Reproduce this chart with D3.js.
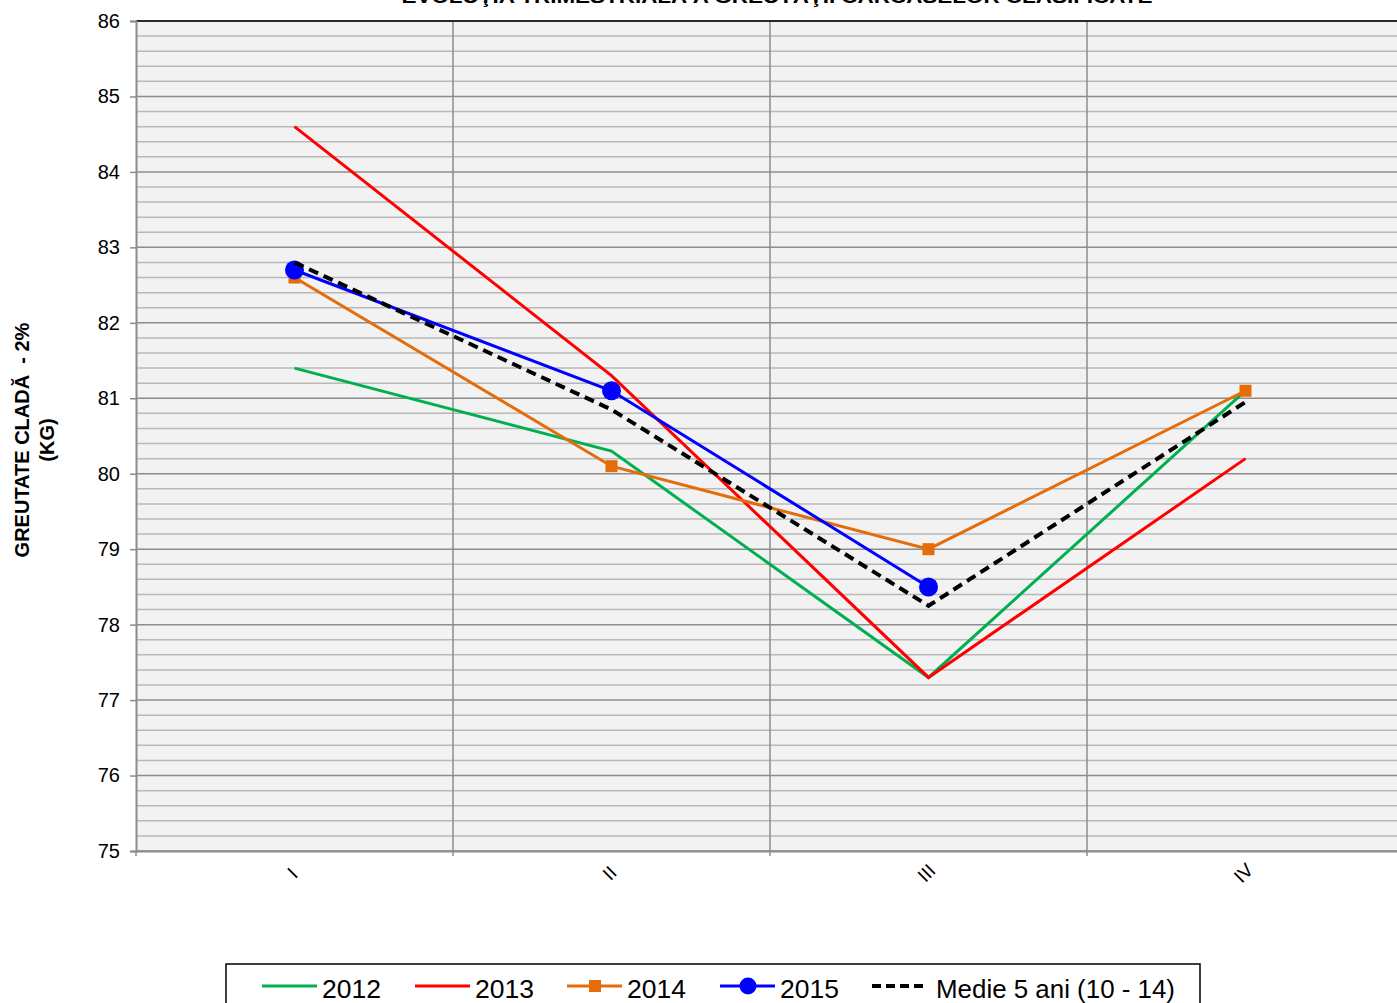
<!DOCTYPE html>
<html><head><meta charset="utf-8">
<script src="https://cdn.jsdelivr.net/npm/d3@7"></script>
<style>body{margin:0;background:#fff;overflow:hidden}svg{display:block;font-family:"Liberation Sans",Arial,sans-serif}</style>
</head><body>
<svg id="c" width="1397" height="1003"></svg>
<script>
const categories = ["I","II","III","IV"];
const s2012 = [81.4, 80.3, 77.3, 81.1];
const s2013 = [84.6, 81.3, 77.3, 80.2];
const s2014 = [82.6, 80.1, 79.0, 81.1];
const s2015 = [82.7, 81.1, 78.5, null];
const sMedie = [82.8, 80.85, 78.25, 80.95];
const yTicks = [75,76,77,78,79,80,81,82,83,84,85,86];
const seriesNames = ["2012","2013","2014","2015","Medie 5 ani (10 - 14)"];
const title = "EVOLUŢIA TRIMESTRIALĂ A GREUTĂŢII CARCASELOR CLASIFICATE";
const yTitle = ["GREUTATE CLADĂ  - 2%", "(KG)"];

const series = [
  {name: seriesNames[0], values: s2012, color: "#00b050", width: 3, marker: null},
  {name: seriesNames[1], values: s2013, color: "#ff0000", width: 3, marker: null},
  {name: seriesNames[2], values: s2014, color: "#e46c0a", width: 3, marker: "square"},
  {name: seriesNames[3], values: s2015, color: "#0000ff", width: 3, marker: "circle"},
  {name: seriesNames[4], values: sMedie, color: "#000000", width: 4, marker: null, dash: "10,6"}
];

const svg = d3.select("#c");
const L = 136, R = 1404, T = 21, B = 851;
const x = d3.scaleBand().domain(categories).range([L, R]);
const y = d3.scaleLinear().domain([75, 86]).range([B, T]);

svg.append("text").attr("x", 777).attr("y", 3).attr("text-anchor", "middle")
  .attr("font-weight", "bold").attr("font-size", 19)
  .attr("textLength", 751).attr("lengthAdjust", "spacingAndGlyphs").text(title);

svg.append("rect").attr("x", L).attr("y", T).attr("width", R - L).attr("height", B - T).attr("fill", "#f2f2f2");

// minor grid
const minor = d3.range(75, 86.001, 0.2).filter(v => Math.abs(v - Math.round(v)) > 0.01);
svg.append("g").selectAll("line").data(minor).join("line")
  .attr("x1", L).attr("x2", R).attr("y1", d => y(d)).attr("y2", d => y(d))
  .attr("stroke", "#b8b8b8").attr("stroke-width", 1.5);
// major grid
svg.append("g").selectAll("line").data(yTicks).join("line")
  .attr("x1", L).attr("x2", R).attr("y1", d => y(d)).attr("y2", d => y(d))
  .attr("stroke", "#8c8c8c").attr("stroke-width", 1.5);
// vertical grid
svg.append("g").selectAll("line").data(categories.slice(1)).join("line")
  .attr("x1", d => x(d)).attr("x2", d => x(d)).attr("y1", T).attr("y2", B)
  .attr("stroke", "#8c8c8c").attr("stroke-width", 1.5);
svg.append("line").attr("x1", L).attr("x2", R).attr("y1", T).attr("y2", T).attr("stroke", "#000").attr("stroke-width", 1.5);

// y axis
const ya = svg.append("g").attr("transform", `translate(${L},0)`)
  .call(d3.axisLeft(y).tickValues(yTicks).tickSize(6).tickPadding(10).tickFormat(d3.format("d")));
ya.attr("font-size", 20).attr("font-family", "Liberation Sans, Arial");
ya.select(".domain").attr("stroke", "#8c8c8c").attr("stroke-width", 2);
ya.selectAll(".tick line").attr("stroke", "#8c8c8c").attr("stroke-width", 1.5);
ya.selectAll("text").attr("fill", "#000");

// x axis
const xa = svg.append("g").attr("transform", `translate(0,${B})`)
  .call(d3.axisBottom(x).tickSize(0).tickFormat(d => d));
xa.attr("font-size", 19).attr("font-family", "Liberation Sans, Arial");
xa.select(".domain").attr("stroke", "#8c8c8c").attr("stroke-width", 2);
xa.selectAll(".tick text").attr("fill", "#000")
  .attr("text-anchor", "middle").attr("dy", "0.35em").attr("y", 0)
  .attr("transform", "translate(-2,22) rotate(-45)");
svg.append("g").selectAll("line").data(categories).join("line")
  .attr("x1", d => x(d)).attr("x2", d => x(d)).attr("y1", B).attr("y2", B + 5)
  .attr("stroke", "#8c8c8c").attr("stroke-width", 1.5);

// y title
const yt = svg.append("text").attr("transform", "translate(29,440) rotate(-90)")
  .attr("text-anchor", "middle").attr("font-weight", "bold").attr("font-size", 20)
  .attr("xml:space", "preserve").style("white-space", "pre");
yt.append("tspan").attr("x", 0).attr("dy", 0).text(yTitle[0]);
yt.append("tspan").attr("x", 0).attr("dy", 25).text(yTitle[1]);

// lines
const line = d3.line().defined(d => d.v != null).x(d => x(d.c) + x.bandwidth() / 2).y(d => y(d.v));
series.forEach(s => {
  const pts = categories.map((c, i) => ({c, v: s.values[i]}));
  svg.append("path").datum(pts).attr("d", line).attr("fill", "none")
    .attr("stroke", s.color).attr("stroke-width", s.width)
    .attr("stroke-dasharray", s.dash || null);
  const mp = pts.filter(d => d.v != null);
  if (s.marker === "square") {
    svg.append("g").selectAll("rect").data(mp).join("rect")
      .attr("x", d => x(d.c) + x.bandwidth() / 2 - 6).attr("y", d => y(d.v) - 6)
      .attr("width", 12).attr("height", 12).attr("fill", s.color);
  } else if (s.marker === "circle") {
    svg.append("g").selectAll("circle").data(mp).join("circle")
      .attr("cx", d => x(d.c) + x.bandwidth() / 2).attr("cy", d => y(d.v)).attr("r", 9.5).attr("fill", s.color);
  }
});

// legend
svg.append("rect").attr("x", 226).attr("y", 964).attr("width", 974).attr("height", 60)
  .attr("fill", "#fff").attr("stroke", "#000").attr("stroke-width", 1.5);
const legX = [262, 415, 567, 720, 872];
const lg = svg.append("g");
series.forEach((s, i) => {
  const x0 = legX[i];
  lg.append("line").attr("x1", x0).attr("x2", x0 + 55).attr("y1", 986).attr("y2", 986)
    .attr("stroke", s.color).attr("stroke-width", s.width).attr("stroke-dasharray", s.dash ? "9,5" : null);
  if (s.marker === "square") lg.append("rect").attr("x", x0 + 22).attr("y", 980).attr("width", 12).attr("height", 12).attr("fill", s.color);
  if (s.marker === "circle") lg.append("circle").attr("cx", x0 + 28).attr("cy", 986).attr("r", 8.5).attr("fill", s.color);
  lg.append("text").attr("x", x0 + (i === 4 ? 64 : 60)).attr("y", 998).attr("font-size", 26)
    .attr("textLength", i === 4 ? 239 : 59).attr("lengthAdjust", "spacingAndGlyphs")
    .text(s.name);
});
</script>
</body></html>
